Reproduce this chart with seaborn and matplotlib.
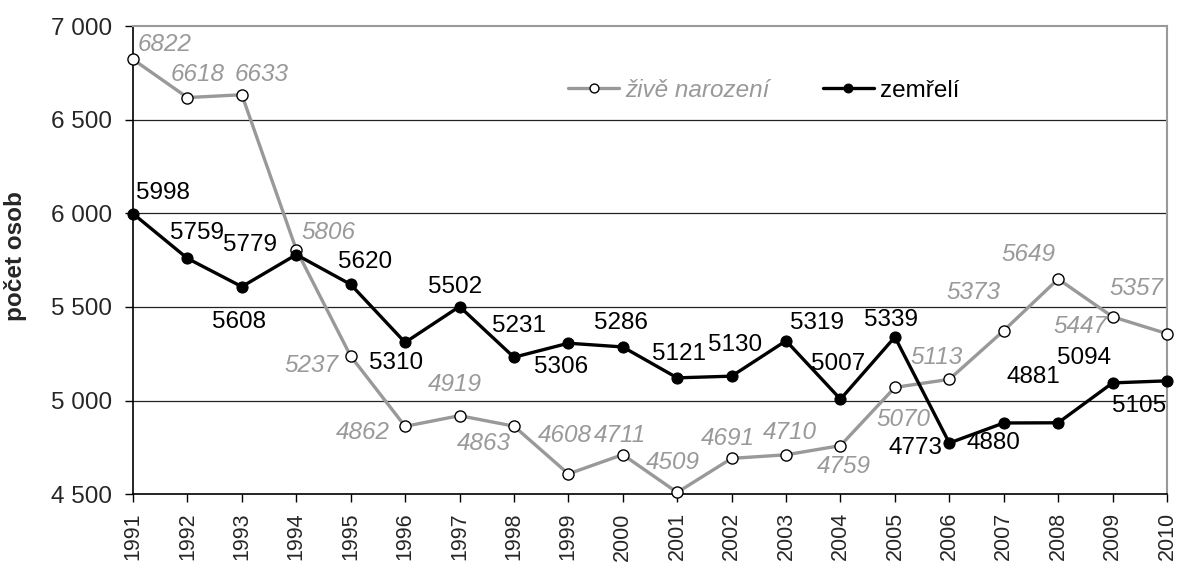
import matplotlib
matplotlib.use("Agg")
import matplotlib.pyplot as plt
import seaborn as sns
import pandas as pd
from matplotlib.ticker import FuncFormatter

years = list(range(1991, 2011))
zive_narozeni = [6822, 6618, 6633, 5806, 5237, 4862, 4919, 4863, 4608, 4711,
                 4509, 4691, 4710, 4759, 5070, 5113, 5373, 5649, 5447, 5357]
zemreli = [5998, 5759, 5608, 5779, 5620, 5310, 5502, 5231, 5306, 5286,
           5121, 5130, 5319, 5007, 5339, 4773, 4880, 4881, 5094, 5105]

# label offsets in pixels (dx, dy), mimic the original placement
off_born = [(32, 15), (10, 23), (20, 20), (32, 17), (-39, -9), (-42, -6), (-5, 31),
            (-30, -17), (-4, 38), (-3, 19), (-4, 30), (-4, 20), (4, 22), (3, -21),
            (9, -32), (-13, 22), (-30, 38), (-30, 24), (-32, -10), (-31, 45)]
off_dead = [(30, 21), (10, 25), (-3, -35), (-46, 10), (14, 22), (-9, -21), (-4, 20),
            (5, 31), (-7, -24), (-2, 24), (2, 24), (3, 31), (31, 18), (-2, 35),
            (-4, 17), (-34, -5), (-10, -20), (-25, 46), (-29, 25), (-28, -25)]

df = pd.DataFrame({"rok": years, "born": zive_narozeni, "dead": zemreli})

sns.set_style("white")
plt.rcParams["font.family"] = ["Liberation Sans", "DejaVu Sans"]

GREY = "#999999"
FS = 17.5
fig = plt.figure(figsize=(11.77, 5.66), dpi=100)
ax = fig.add_axes([0.113, 0.127, 0.8785, 0.827])

for y in [5000, 5500, 6000, 6500]:
    ax.axhline(y, color="#222222", lw=0.9, zorder=0)

sns.lineplot(data=df, x="rok", y="born", ax=ax, color=GREY, lw=2.4, marker="o",
             markersize=8, markerfacecolor="white", markeredgecolor="black",
             markeredgewidth=1.0, label="živě narození", clip_on=False, zorder=3)
sns.lineplot(data=df, x="rok", y="dead", ax=ax, color="black", lw=2.4, marker="o",
             markersize=8, markerfacecolor="black", markeredgecolor="black",
             label="zemřelí", clip_on=False, zorder=4)

for x, v, (dx, dy) in zip(years, zive_narozeni, off_born):
    ax.annotate(str(v), (x, v), xytext=(dx, dy), textcoords="offset pixels",
                ha="center", va="center", fontsize=FS, color=GREY, style="italic")
for x, v, (dx, dy) in zip(years, zemreli, off_dead):
    ax.annotate(str(v), (x, v), xytext=(dx, dy), textcoords="offset pixels",
                ha="center", va="center", fontsize=FS, color="black")

ax.set_xlim(1991, 2010)
ax.set_ylim(4500, 7000)
ax.set_xticks(years)
ax.set_xticklabels([str(y) for y in years], rotation=90)
ax.set_yticks([4500, 5000, 5500, 6000, 6500, 7000])
ax.yaxis.set_major_formatter(FuncFormatter(lambda v, p: f"{int(v):,}".replace(",", " ")))
ax.tick_params(axis="both", direction="out", length=6, width=1,
               color="black", left=True, bottom=True)
ax.tick_params(axis="x", pad=7, labelsize=15.5)
ax.tick_params(axis="y", pad=9, labelsize=FS)
ax.set_xlabel("")
ax.set_ylabel("počet osob", fontsize=17.5, fontweight="bold")
ax.yaxis.set_label_coords(-0.1025, 0.508)

for s in ["left", "bottom"]:
    ax.spines[s].set_color("black")
    ax.spines[s].set_linewidth(1.2)
for s in ["top", "right"]:
    ax.spines[s].set_color(GREY)
    ax.spines[s].set_linewidth(1.5)

leg = ax.legend(loc="center", bbox_to_anchor=(0.61, 0.863), ncol=2, frameon=False,
                fontsize=FS, handlelength=2.1, handletextpad=0.25, columnspacing=2.2,
                markerscale=0.8)
texts = leg.get_texts()
texts[0].set_color(GREY)
texts[0].set_style("italic")
texts[1].set_color("black")

fig.savefig("out.png", dpi=100)
